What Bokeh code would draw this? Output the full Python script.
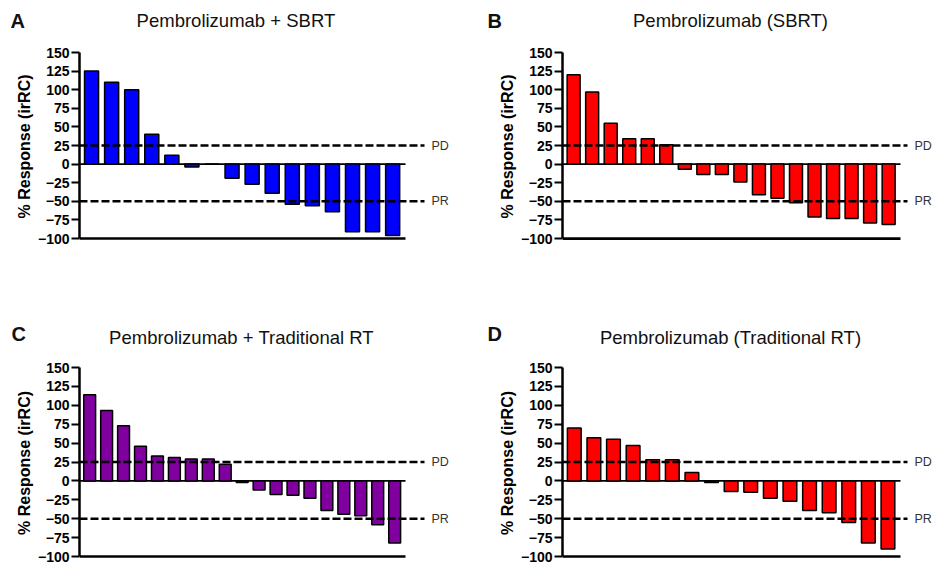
from bokeh.plotting import figure
from bokeh.models import Range1d, FixedTicker, Label
from bokeh.layouts import column, row
from bokeh.embed import file_html
from bokeh.resources import INLINE
from bokeh.core.properties import value

# ---------------- data ----------------
letters = ["A", "B", "C", "D"]
titles = ["Pembrolizumab  + SBRT", "Pembrolizumab (SBRT)",
          "Pembrolizumab + Traditional RT", "Pembrolizumab (Traditional RT)"]
vals_a = [125, 110, 100, 40, 12, -4, 0, -19, -27, -39, -54, -56, -64, -91, -91, -96]
vals_b = [120, 97, 55, 34, 34, 26, -7, -14, -14, -24, -41, -46, -52, -71, -73, -73, -79, -81]
vals_c = [114, 93, 73, 46, 33, 31, 29, 29, 22, -2, -12, -18, -19, -23, -39, -44, -46, -58, -82]
vals_d = [70, 57, 55, 47, 28, 28, 11, -2, -14, -15, -23, -27, -39, -42, -55, -82, -90]
colors = ["#0000FF", "#FF0000", "#80009F", "#FF0000"]
y_ticks = [-100, -75, -50, -25, 0, 25, 50, 75, 100, 125, 150]
ref_levels = [25, -50]
ref_labels = ["PD", "PR"]
y_label = "% Response (irRC)"

FONT = "Liberation Sans"
W_TOTAL = 934
BASE_FIX = 5  # text glyph baseline correction (px)


def make_panel(vals, color, w, h, ox, oy, ax_l, ax_r, y150, ym100):
    fl = ax_l - ox
    ft = y150 - oy
    fb = ym100 - oy
    ppu = (fb - ft) / 250.0
    frame_b = fb + 2
    y0 = 150 - (frame_b - ft) / ppu
    n = len(vals)
    axis_len = ax_r - ax_l
    s = axis_len / (n + 0.24)
    W = w - fl
    x0 = 0.4
    x1 = x0 + W / s

    def sx(px):
        return x0 + (px - ax_l) / s

    p = figure(width=w, height=h, x_range=Range1d(x0, x1),
               y_range=Range1d(y0, 150.01), output_backend="svg",
               toolbar_location=None, x_axis_location=None,
               min_border_left=fl, min_border_right=0,
               min_border_top=ft, min_border_bottom=h - frame_b,
               outline_line_color=None, background_fill_color="white",
               border_fill_color="white")
    p.grid.grid_line_color = None

    ax = p.yaxis[0]
    ax.ticker = FixedTicker(ticks=y_ticks)
    ax.bounds = (-100, 150)
    ax.axis_line_width = 2.5
    ax.axis_line_color = "black"
    ax.major_tick_line_width = 2
    ax.major_tick_line_color = "black"
    ax.major_tick_out = 8
    ax.major_tick_in = 0
    ax.minor_tick_out = 0
    ax.minor_tick_in = 0
    ax.major_label_standoff = 2
    ax.major_label_text_font = FONT
    ax.major_label_text_font_size = "14px"
    ax.major_label_text_font_style = "bold"
    ax.major_label_text_color = "black"
    ax.axis_label = y_label
    ax.axis_label_text_font = FONT
    ax.axis_label_text_font_size = "16px"
    ax.axis_label_text_font_style = "bold"
    ax.axis_label_text_color = "black"
    ax.axis_label_standoff = 2

    xs = list(range(1, n + 1))
    end_x = n + 0.64
    p.segment(x0=[x0], y0=[0], x1=[end_x], y1=[0], line_color="black", line_width=1.8)
    p.vbar(x=xs, top=vals, bottom=0, width=0.7, fill_color=color,
           line_color="black", line_width=1.5)
    p.segment(x0=[x0], y0=[-100], x1=[end_x], y1=[-100], line_color="black", line_width=2.7)
    dash_end = sx(ax_l + 345)
    for lev, lab in zip(ref_levels, ref_labels):
        p.segment(x0=[x0], y0=[lev], x1=[dash_end], y1=[lev], line_color="black",
                  line_width=2.5, line_dash="8 3")
        p.add_layout(Label(x=sx(ax_l + 352), y=lev, text=lab, text_baseline="middle",
                           text_align="left", text_font=FONT, text_font_size="12.5px",
                           text_color="#333333"))
    return p


def make_strip(h, oy, title_pair, letter_pair, t_cx, t_base, l_x, l_base):
    p = figure(width=W_TOTAL, height=h, x_range=Range1d(0, W_TOTAL),
               y_range=Range1d(h, 0), output_backend="svg", toolbar_location=None,
               x_axis_location=None, y_axis_location=None,
               min_border_left=0, min_border_right=0, min_border_top=0,
               min_border_bottom=0, outline_line_color=None,
               background_fill_color="white", border_fill_color="white")
    p.grid.grid_line_color = None
    p.text(x=t_cx, y=[b - oy - BASE_FIX for b in t_base], text=title_pair,
           text_align="center", text_baseline="alphabetic",
           text_font=value(FONT), text_font_size="18.5px", text_color="#111111")
    p.text(x=l_x, y=[b - oy - BASE_FIX for b in l_base], text=letter_pair,
           text_align="left", text_baseline="alphabetic",
           text_font=value(FONT), text_font_size="20px", text_font_style="bold",
           text_color="#111111")
    return p


TOP_H = 36
BOT_Y = 283
BOT_H = 69
top_strip = make_strip(TOP_H, 0, titles[0:2], letters[0:2], [238, 730], [25, 25],
                       [10, 487], [25, 25])
pA = make_panel(vals_a, colors[0], 467, BOT_Y - TOP_H, 0, TOP_H, 79, 405, 52, 239)
pB = make_panel(vals_b, colors[1], 467, BOT_Y - TOP_H, 467, TOP_H, 562, 900, 49, 238)
bot_strip = make_strip(BOT_H, BOT_Y, titles[2:4], letters[2:4], [241, 730], [342, 342],
                       [11, 487], [338, 338])
py = BOT_Y + BOT_H
pC = make_panel(vals_c, colors[2], 467, 567 - py, 0, py, 79, 405, 367, 556)
pD = make_panel(vals_d, colors[3], 467, 567 - py, 467, py, 562, 900, 367, 557)

layout = column(top_strip, row(pA, pB), bot_strip, row(pC, pD))
open("out.html", "w").write(file_html(layout, INLINE))
